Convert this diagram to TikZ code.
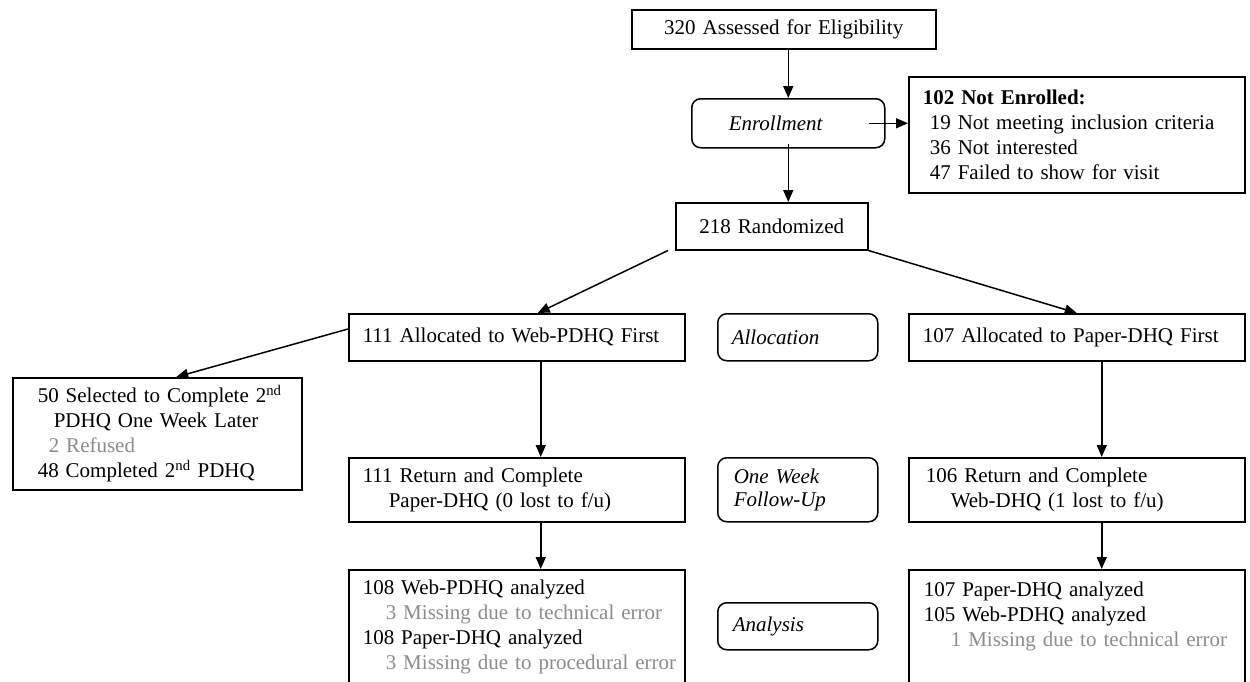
\documentclass[tikz,border=0pt]{standalone}
\usepackage{fontspec}
\setmainfont{Liberation Serif}
\usetikzlibrary{arrows.meta}
\definecolor{greytxt}{RGB}{140,140,140}
\begin{document}
\begin{tikzpicture}[x=1pt,y=-1pt,
  every node/.style={font=\fontsize{21}{25}\selectfont},
  box/.style={draw, line width=1.5pt, rectangle, anchor=north west, align=left, inner ysep=0pt},
  rbox/.style={box, rounded corners=9pt, font=\fontsize{21}{25}\selectfont\itshape},
  arr/.style={line width=1.5pt, -{Triangle[length=12pt,width=10pt]}},
  gr/.style={text=greytxt}]
\useasboundingbox (0,0) rectangle (1250,681);
\clip (0,0) rectangle (1250,681);

\node[box, align=center, minimum width=304pt, minimum height=39pt, inner xsep=0pt, text width=304pt] (elig) at (631,9) {320 Assessed for Eligibility};
\node[rbox, minimum width=193pt, minimum height=49pt, inner xsep=37pt, text width=119pt] (enrol) at (691,98) {Enrollment};
\node[box, minimum width=336pt, minimum height=116pt, inner xsep=14pt, text width=308pt] (notenr) at (908,76)
  {\textbf{102 Not Enrolled:}\\\hspace*{7pt}19 Not meeting inclusion criteria\\\hspace*{7pt}36 Not interested\\\hspace*{7pt}47 Failed to show for visit};
\node[box, align=center, minimum width=192pt, minimum height=47pt, inner xsep=0pt, text width=192pt] (rand) at (675,202) {218 Randomized};

\node[box, minimum width=336pt, minimum height=47pt, inner xsep=14pt, text width=308pt] (alloc1) at (348,313) {111 Allocated to Web-PDHQ First};
\node[rbox, minimum width=160pt, minimum height=47pt, inner xsep=14pt, text width=132pt] (allocL) at (717,313) {Allocation};
\node[box, minimum width=336pt, minimum height=47pt, inner xsep=14pt, text width=308pt] (alloc2) at (908,313) {107 Allocated to Paper-DHQ First};

\node[box, minimum width=289pt, minimum height=112pt, inner xsep=5pt, text width=279pt] (sel) at (12,377)
  {\hspace*{20pt}50 Selected to Complete 2\textsuperscript{nd}\\\hspace*{36pt}PDHQ One Week Later\\\hspace*{31pt}\textcolor{greytxt}{2 Refused}\\\hspace*{20pt}48 Completed 2\textsuperscript{nd} PDHQ};

\node[box, minimum width=336pt, minimum height=64pt, inner xsep=14pt, text width=308pt] (ret1) at (348,457)
  {111 Return and Complete\\\hspace*{26pt}Paper-DHQ (0 lost to f/u)};
\node[rbox, minimum width=160pt, minimum height=64pt, inner xsep=16pt, text width=128pt] (weekL) at (717,457)
  {One Week\\[-2pt]Follow-Up};
\node[box, minimum width=336pt, minimum height=64pt, inner xsep=17pt, text width=302pt] (ret2) at (908,457)
  {106 Return and Complete\\\hspace*{25pt}Web-DHQ (1 lost to f/u)};

\node[box, minimum width=336pt, minimum height=114pt, inner xsep=5pt, text width=326pt] (an1) at (348,569)
  {\hspace*{9pt}108 Web-PDHQ analyzed\\\hspace*{32pt}\textcolor{greytxt}{3 Missing due to technical error}\\\hspace*{9pt}108 Paper-DHQ analyzed\\\hspace*{32pt}\textcolor{greytxt}{3 Missing due to procedural error}};
\node[rbox, minimum width=160pt, minimum height=47pt, inner xsep=15pt, text width=130pt] (anL) at (717,602) {Analysis};
\node[box, minimum width=336pt, minimum height=114pt, inner xsep=5pt, text width=326pt] (an2) at (908,569)
  {\hspace*{10pt}107 Paper-DHQ analyzed\\\hspace*{10pt}105 Web-PDHQ analyzed\\\hspace*{37pt}\textcolor{greytxt}{1 Missing due to technical error}\\\mbox{}};

\draw[arr] (enrol.north |- elig.south) -- (enrol.north);
\draw[arr] ([xshift=-17pt]enrol.east) -- (enrol.east -| notenr.west);
\draw[arr] ([yshift=5pt]enrol.south) -- (enrol.south |- rand.north);
\draw[arr] ([xshift=-7pt]rand.south west) -- ([xshift=21pt]alloc1.north);
\draw[arr] (rand.south east) -- (alloc2.north);
\draw[arr] ([yshift=-16pt]alloc1.north west) -- ([xshift=19pt]sel.north);
\draw[arr] ([xshift=24pt]alloc1.south) -- ([xshift=24pt]ret1.north);
\draw[arr] ([xshift=24pt]ret1.south) -- ([xshift=24pt]an1.north);
\draw[arr] ([xshift=25pt]alloc2.south) -- ([xshift=25pt]ret2.north);
\draw[arr] ([xshift=25pt]ret2.south) -- ([xshift=25pt]an2.north);
\end{tikzpicture}
\end{document}
